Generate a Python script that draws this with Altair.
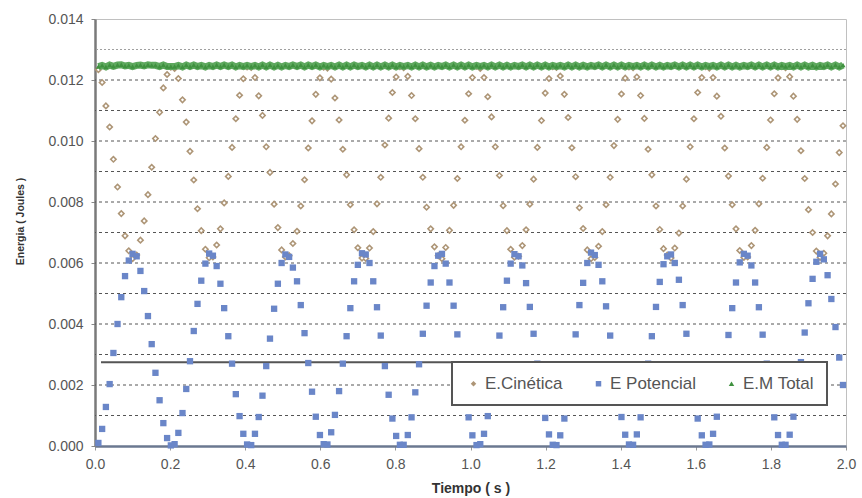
import altair as alt
import pandas as pd

# Sample times (s), one frame every ~0.0102 s
tiempo = [
    0.009, 0.019, 0.029, 0.039, 0.049, 0.060, 0.070, 0.080, 0.090, 0.100,
    0.111, 0.121, 0.131, 0.141, 0.151, 0.161, 0.172, 0.182, 0.192, 0.202,
    0.212, 0.222, 0.233, 0.243, 0.253, 0.263, 0.273, 0.283, 0.294, 0.304,
    0.314, 0.324, 0.334, 0.344, 0.355, 0.365, 0.375, 0.385, 0.395, 0.405,
    0.416, 0.426, 0.436, 0.446, 0.456, 0.466, 0.477, 0.487, 0.497, 0.507,
    0.517, 0.527, 0.538, 0.548, 0.558, 0.568, 0.578, 0.588, 0.599, 0.609,
    0.619, 0.629, 0.639, 0.650, 0.660, 0.670, 0.680, 0.690, 0.700, 0.711,
    0.721, 0.731, 0.741, 0.751, 0.761, 0.772, 0.782, 0.792, 0.802, 0.812,
    0.822, 0.833, 0.843, 0.853, 0.863, 0.873, 0.883, 0.894, 0.904, 0.914,
    0.924, 0.934, 0.944, 0.955, 0.965, 0.975, 0.985, 0.995, 1.005, 1.016,
    1.026, 1.036, 1.046, 1.056, 1.066, 1.077, 1.087, 1.097, 1.107, 1.117,
    1.128, 1.138, 1.148, 1.158, 1.168, 1.178, 1.189, 1.199, 1.209, 1.219,
    1.229, 1.239, 1.250, 1.260, 1.270, 1.280, 1.290, 1.300, 1.311, 1.321,
    1.331, 1.341, 1.351, 1.361, 1.372, 1.382, 1.392, 1.402, 1.412, 1.422,
    1.433, 1.443, 1.453, 1.463, 1.473, 1.483, 1.494, 1.504, 1.514, 1.524,
    1.534, 1.544, 1.555, 1.565, 1.575, 1.585, 1.595, 1.605, 1.616, 1.626,
    1.636, 1.646, 1.656, 1.667, 1.677, 1.687, 1.697, 1.707, 1.717, 1.728,
    1.738, 1.748, 1.758, 1.768, 1.778, 1.789, 1.799, 1.809, 1.819, 1.829,
    1.839, 1.850, 1.860, 1.870, 1.880, 1.890, 1.900, 1.911, 1.921, 1.931,
    1.941, 1.951, 1.961, 1.972, 1.982, 1.992,
]

# Kinetic energy (J)
e_cinetica = [
    0.01234, 0.01192, 0.01115, 0.01046, 0.00940, 0.00849, 0.00762, 0.00689, 0.00640, 0.00614,
    0.00626, 0.00675, 0.00738, 0.00824, 0.00914, 0.01008, 0.01094, 0.01174, 0.01218, 0.01242,
    0.01238, 0.01205, 0.01135, 0.01062, 0.00966, 0.00872, 0.00778, 0.00706, 0.00645, 0.00617,
    0.00620, 0.00659, 0.00712, 0.00797, 0.00884, 0.00979, 0.01073, 0.01150, 0.01204, 0.01243,
    0.01241, 0.01208, 0.01148, 0.01084, 0.00981, 0.00897, 0.00793, 0.00716, 0.00643, 0.00620,
    0.00624, 0.00664, 0.00704, 0.00787, 0.00873, 0.00977, 0.01066, 0.01153, 0.01207, 0.01242,
    0.01239, 0.01203, 0.01141, 0.01069, 0.00973, 0.00889, 0.00791, 0.00709, 0.00650, 0.00616,
    0.00615, 0.00649, 0.00703, 0.00794, 0.00881, 0.00987, 0.01075, 0.01159, 0.01210, 0.01244,
    0.01240, 0.01212, 0.01149, 0.01073, 0.00975, 0.00881, 0.00783, 0.00712, 0.00653, 0.00624,
    0.00614, 0.00651, 0.00707, 0.00789, 0.00877, 0.00981, 0.01068, 0.01155, 0.01208, 0.01245,
    0.01238, 0.01208, 0.01145, 0.01079, 0.00981, 0.00887, 0.00788, 0.00706, 0.00645, 0.00619,
    0.00622, 0.00657, 0.00709, 0.00793, 0.00875, 0.00979, 0.01067, 0.01157, 0.01205, 0.01244,
    0.01241, 0.01213, 0.01153, 0.01077, 0.00978, 0.00883, 0.00781, 0.00713, 0.00643, 0.00614,
    0.00618, 0.00655, 0.00703, 0.00791, 0.00881, 0.00985, 0.01071, 0.01154, 0.01206, 0.01243,
    0.01240, 0.01210, 0.01149, 0.01074, 0.00973, 0.00889, 0.00787, 0.00710, 0.00647, 0.00626,
    0.00616, 0.00649, 0.00698, 0.00787, 0.00875, 0.00981, 0.01073, 0.01159, 0.01208, 0.01244,
    0.01239, 0.01208, 0.01147, 0.01081, 0.00977, 0.00885, 0.00791, 0.00712, 0.00641, 0.00618,
    0.00620, 0.00657, 0.00707, 0.00794, 0.00878, 0.00979, 0.01069, 0.01155, 0.01207, 0.01244,
    0.01240, 0.01211, 0.01147, 0.01071, 0.00968, 0.00877, 0.00775, 0.00700, 0.00639, 0.00618,
    0.00632, 0.00689, 0.00761, 0.00859, 0.00962, 0.01050,
]

# Potential energy (J)
e_potencial = [
    0.00010, 0.00056, 0.00128, 0.00203, 0.00305, 0.00400, 0.00488, 0.00557, 0.00608, 0.00630,
    0.00622, 0.00574, 0.00508, 0.00426, 0.00334, 0.00240, 0.00150, 0.00075, 0.00026, 0.00002,
    0.00006, 0.00043, 0.00108, 0.00187, 0.00278, 0.00377, 0.00466, 0.00542, 0.00598, 0.00631,
    0.00624, 0.00590, 0.00532, 0.00452, 0.00360, 0.00270, 0.00170, 0.00098, 0.00040, 0.00005,
    0.00003, 0.00040, 0.00095, 0.00165, 0.00262, 0.00352, 0.00450, 0.00532, 0.00600, 0.00628,
    0.00620, 0.00585, 0.00540, 0.00462, 0.00370, 0.00272, 0.00178, 0.00096, 0.00036, 0.00006,
    0.00005, 0.00045, 0.00102, 0.00180, 0.00270, 0.00360, 0.00452, 0.00540, 0.00594, 0.00632,
    0.00628, 0.00600, 0.00540, 0.00455, 0.00362, 0.00262, 0.00168, 0.00090, 0.00033, 0.00004,
    0.00004, 0.00036, 0.00094, 0.00176, 0.00268, 0.00368, 0.00460, 0.00536, 0.00590, 0.00624,
    0.00630, 0.00598, 0.00536, 0.00460, 0.00366, 0.00268, 0.00175, 0.00094, 0.00035, 0.00003,
    0.00006, 0.00040, 0.00098, 0.00170, 0.00262, 0.00362, 0.00455, 0.00542, 0.00598, 0.00629,
    0.00622, 0.00592, 0.00534, 0.00456, 0.00368, 0.00270, 0.00176, 0.00092, 0.00038, 0.00004,
    0.00003, 0.00035, 0.00090, 0.00172, 0.00265, 0.00366, 0.00462, 0.00535, 0.00600, 0.00634,
    0.00626, 0.00594, 0.00540, 0.00458, 0.00362, 0.00264, 0.00172, 0.00095, 0.00037, 0.00005,
    0.00004, 0.00038, 0.00094, 0.00175, 0.00270, 0.00360, 0.00456, 0.00538, 0.00596, 0.00622,
    0.00628, 0.00600, 0.00545, 0.00462, 0.00368, 0.00268, 0.00170, 0.00090, 0.00035, 0.00004,
    0.00005, 0.00040, 0.00096, 0.00168, 0.00266, 0.00364, 0.00452, 0.00536, 0.00602, 0.00630,
    0.00624, 0.00592, 0.00536, 0.00455, 0.00365, 0.00270, 0.00174, 0.00094, 0.00036, 0.00004,
    0.00004, 0.00037, 0.00096, 0.00178, 0.00275, 0.00372, 0.00468, 0.00548, 0.00604, 0.00630,
    0.00612, 0.00560, 0.00482, 0.00390, 0.00290, 0.00200,
]

# Total mechanical energy (J)
e_total = [
    0.01244, 0.01248, 0.01243, 0.01249, 0.01245, 0.01249, 0.01250, 0.01246, 0.01248, 0.01244,
    0.01248, 0.01249, 0.01246, 0.01250, 0.01248, 0.01248, 0.01244, 0.01249, 0.01244, 0.01244,
    0.01244, 0.01248, 0.01243, 0.01249, 0.01244, 0.01249, 0.01244, 0.01248, 0.01243, 0.01248,
    0.01244, 0.01249, 0.01244, 0.01249, 0.01244, 0.01249, 0.01243, 0.01248, 0.01244, 0.01248,
    0.01244, 0.01248, 0.01243, 0.01249, 0.01243, 0.01249, 0.01243, 0.01248, 0.01243, 0.01248,
    0.01244, 0.01249, 0.01244, 0.01249, 0.01243, 0.01249, 0.01244, 0.01249, 0.01243, 0.01248,
    0.01244, 0.01248, 0.01243, 0.01249, 0.01243, 0.01249, 0.01243, 0.01249, 0.01244, 0.01248,
    0.01243, 0.01249, 0.01243, 0.01249, 0.01243, 0.01249, 0.01243, 0.01249, 0.01243, 0.01248,
    0.01244, 0.01248, 0.01243, 0.01249, 0.01243, 0.01249, 0.01243, 0.01248, 0.01243, 0.01248,
    0.01244, 0.01249, 0.01243, 0.01249, 0.01243, 0.01249, 0.01243, 0.01249, 0.01243, 0.01248,
    0.01244, 0.01248, 0.01243, 0.01249, 0.01243, 0.01249, 0.01243, 0.01248, 0.01243, 0.01248,
    0.01244, 0.01249, 0.01243, 0.01249, 0.01243, 0.01249, 0.01243, 0.01249, 0.01243, 0.01248,
    0.01244, 0.01248, 0.01243, 0.01249, 0.01243, 0.01249, 0.01243, 0.01248, 0.01243, 0.01248,
    0.01244, 0.01249, 0.01243, 0.01249, 0.01243, 0.01249, 0.01243, 0.01249, 0.01243, 0.01248,
    0.01244, 0.01248, 0.01243, 0.01249, 0.01243, 0.01249, 0.01243, 0.01248, 0.01243, 0.01248,
    0.01244, 0.01249, 0.01243, 0.01249, 0.01243, 0.01249, 0.01243, 0.01249, 0.01243, 0.01248,
    0.01244, 0.01248, 0.01243, 0.01249, 0.01243, 0.01249, 0.01243, 0.01248, 0.01243, 0.01248,
    0.01244, 0.01249, 0.01243, 0.01249, 0.01243, 0.01249, 0.01243, 0.01249, 0.01243, 0.01248,
    0.01244, 0.01248, 0.01243, 0.01249, 0.01243, 0.01249, 0.01243, 0.01248, 0.01243, 0.01248,
    0.01244, 0.01249, 0.01243, 0.01249, 0.01243, 0.01249,
]

series_names = ["E.Cinética", "E Potencial", "E.M Total"]
series_colors = ["#ad9576", "#6a86c8", "#3f913f"]
series_shapes = ["diamond", "square", "triangle-up"]

grid_levels = [0.001, 0.002, 0.003, 0.004, 0.005, 0.006, 0.007,
               0.008, 0.009, 0.010, 0.011, 0.012]
grid_top = [0.013]

x_ticks = [0.0, 0.2, 0.4, 0.6, 0.8, 1.0, 1.2, 1.4, 1.6, 1.8, 2.0]
y_ticks = [0.000, 0.002, 0.004, 0.006, 0.008, 0.010, 0.012, 0.014]

FONT = "Liberation Sans"

df = pd.concat([
    pd.DataFrame({"t": tiempo, "E": e_cinetica, "serie": series_names[0]}),
    pd.DataFrame({"t": tiempo, "E": e_potencial, "serie": series_names[1]}),
    pd.DataFrame({"t": tiempo, "E": e_total, "serie": series_names[2]}),
], ignore_index=True)

x_scale = alt.Scale(domain=[0, 2], nice=False, zero=False)
y_scale = alt.Scale(domain=[0, 0.014], nice=False)

x_enc = alt.X("t:Q", scale=x_scale, axis=alt.Axis(
    title="Tiempo ( s )", values=x_ticks, format=".1f", labelFlush=False,
    titleFontWeight="bold", titleFontSize=14, titleFont=FONT, titleColor="#333333",
    titleY=35, titleBaseline="top",
    labelFont=FONT, labelFontSize=14, labelColor="#555555",
    domainColor="#6b7890", domainWidth=2.5,
    tickColor="#999999", tickSize=4, labelPadding=7, grid=False))

y_enc = alt.Y("E:Q", scale=y_scale, axis=alt.Axis(
    title="Energia ( Joules )", values=y_ticks, format=".3f", labelFlush=False,
    titleFontWeight="bold", titleFontSize=10.5, titleFont=FONT, titleColor="#333333",
    titleX=-70, titleY=202,
    labelFont=FONT, labelFontSize=14, labelColor="#555555",
    domainColor="#7a7a7a", domainWidth=2.5,
    tickColor="#888888", tickSize=4, labelPadding=8, grid=False))

color_enc = alt.Color("serie:N", scale=alt.Scale(domain=series_names, range=series_colors),
                      legend=alt.Legend(title=None, orient="none", legendX=357, legendY=343,
                                        direction="horizontal"))
shape_enc = alt.Shape("serie:N", scale=alt.Scale(domain=series_names, range=series_shapes))

grid = alt.Chart(pd.DataFrame({"y": grid_levels})).mark_rule(
    color="#555555", strokeWidth=1, strokeDash=[3, 3]
).encode(y=alt.Y("y:Q", scale=y_scale))

grid_light = alt.Chart(pd.DataFrame({"y": grid_top})).mark_rule(
    color="#a0a0a0", strokeWidth=1, strokeDash=[2, 2]
).encode(y=alt.Y("y:Q", scale=y_scale))

# border line running left from the legend box
legend_edge = alt.Chart(pd.DataFrame({"y": [0.00275], "x1": [0.016], "x2": [1.0]})).mark_rule(
    color="#555555", strokeWidth=2
).encode(y=alt.Y("y:Q", scale=y_scale), x=alt.X("x1:Q", scale=x_scale), x2="x2:Q")

kin = alt.Chart(df[df.serie == series_names[0]]).mark_point(
    filled=True, size=58, opacity=1
).encode(x=x_enc, y=y_enc, color=color_enc, shape=shape_enc)

kin_hole = alt.Chart(df[df.serie == series_names[0]]).mark_point(
    filled=True, size=10, opacity=1, shape="diamond", color="white"
).encode(x=alt.X("t:Q", scale=x_scale), y=alt.Y("E:Q", scale=y_scale))

pot = alt.Chart(df[df.serie == series_names[1]]).mark_point(
    filled=True, size=40, opacity=1
).encode(x=x_enc, y=y_enc, color=color_enc, shape=shape_enc)

# the densely packed total-energy markers merge into a thick band
tot_band = alt.Chart(df[df.serie == series_names[2]]).mark_line(
    color="#5ea85e", strokeWidth=7, opacity=1
).encode(x=alt.X("t:Q", scale=x_scale), y=alt.Y("E:Q", scale=y_scale))

tot = alt.Chart(df[df.serie == series_names[2]]).mark_point(
    filled=True, size=26, opacity=1
).encode(x=x_enc, y=y_enc, color=color_enc, shape=shape_enc)

chart = alt.layer(grid, grid_light, legend_edge, kin, kin_hole, pot, tot_band, tot).properties(
    width=751, height=427,
    autosize=alt.AutoSizeParams(type="none"),
    padding={"left": 95, "top": 19, "right": 16, "bottom": 52},
    background="white",
).configure_view(
    stroke="#c0c0c0", strokeWidth=1
).configure_legend(
    fillColor="white", strokeColor="#555555", strokeWidth=2,
    padding=13, columnPadding=27, labelFont=FONT, labelFontSize=17,
    labelColor="#555555", symbolSize=30, labelOffset=3, symbolStrokeWidth=0,
)

chart.save("out.html", embed_options={"renderer": "svg", "actions": False})
